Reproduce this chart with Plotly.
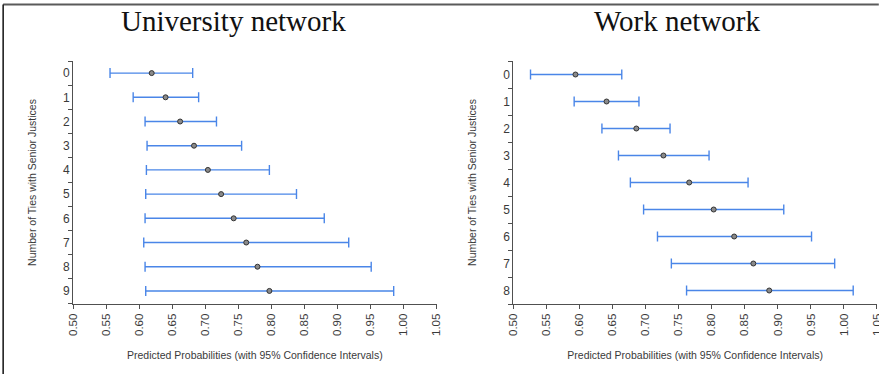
import plotly.graph_objects as go

# ---------------- data ----------------
uni_ties = [0, 1, 2, 3, 4, 5, 6, 7, 8, 9]
uni_pred = [0.619, 0.640, 0.662, 0.683, 0.704, 0.724, 0.743, 0.762, 0.779, 0.797]
uni_low = [0.556, 0.591, 0.609, 0.612, 0.611, 0.610, 0.609, 0.607, 0.609, 0.610]
uni_high = [0.681, 0.690, 0.717, 0.755, 0.797, 0.838, 0.880, 0.917, 0.951, 0.985]

work_ties = [0, 1, 2, 3, 4, 5, 6, 7, 8]
work_pred = [0.594, 0.641, 0.686, 0.727, 0.766, 0.803, 0.834, 0.863, 0.887]
work_low = [0.526, 0.592, 0.634, 0.659, 0.677, 0.697, 0.718, 0.739, 0.762]
work_high = [0.664, 0.690, 0.737, 0.796, 0.855, 0.909, 0.951, 0.986, 1.014]

x_ticks = [0.50, 0.55, 0.60, 0.65, 0.70, 0.75, 0.80, 0.85, 0.90, 0.95, 1.00, 1.05]
titles = ["University network", "Work network"]
x_title = "Predicted Probabilities (with 95% Confidence Intervals)"
y_title = "Number of Ties with Senior Justices"

# ---------------- styling ----------------
W, H = 879, 374
ML, MR, MT, MB = 73.3, 2.3, 61, 70
PW = W - ML - MR
PH = H - MT - MB
BAR = "#4a86e8"
AX = "#505050"
TXT = "#3a3a3a"
SANS = "Liberation Sans, Arial, sans-serif"
SERIF = "Liberation Serif, Times New Roman, serif"


def px_x(px):
    return (px - ML) / PW


def px_y(py):
    return (H - MB - py) / PH


fig = go.Figure()


def add_panel(ties, pred, low, high, xa, ya):
    fig.add_trace(go.Scatter(
        x=pred, y=ties, xaxis=xa, yaxis=ya, mode="markers",
        marker=dict(symbol="circle", size=5, color="#8a8a8a",
                    line=dict(color="#333333", width=1)),
        error_x=dict(type="data", symmetric=False,
                     array=[h - p for h, p in zip(high, pred)],
                     arrayminus=[p - l for p, l in zip(pred, low)],
                     color=BAR, thickness=1.4, width=5),
        showlegend=False, hoverinfo="skip",
    ))


add_panel(uni_ties, uni_pred, uni_low, uni_high, "x", "y")
add_panel(work_ties, work_pred, work_low, work_high, "x2", "y2")


def xaxis_cfg(domain, anchor):
    return dict(
        domain=domain, anchor=anchor, range=[0.50, 1.05], automargin=False,
        tickvals=x_ticks, ticktext=[f"{v:.2f}" for v in x_ticks],
        tickangle=-90, ticks="outside", ticklen=4, tickcolor=AX,
        ticklabeloverflow="allow",
        showline=True, linecolor=AX, linewidth=1, showgrid=False,
        zeroline=False, tickfont=dict(family=SANS, size=11.5, color=TXT),
        title=dict(text=x_title, standoff=16,
                   font=dict(family=SANS, size=10.5, color=TXT)),
    )


def yaxis_cfg(anchor, n):
    return dict(
        domain=[0, 1], anchor=anchor, automargin=False,
        range=[n - 0.5 + (0.04 if n == 10 else 0), -0.5],
        tickvals=list(range(n)), ticktext=[str(i) for i in range(n)],
        ticks="", showline=True, linecolor=AX, linewidth=1,
        showgrid=False, zeroline=False,
        minor=dict(tickvals=[i - 0.5 for i in range(n + 1)], ticks="outside",
                   ticklen=4, tickcolor=AX, showgrid=False),
        tickfont=dict(family=SANS, size=12, color=TXT),
        title=dict(text=y_title, standoff=24,
                   font=dict(family=SANS, size=10.5, color=TXT)),
    )


fig.update_layout(
    width=W, height=H,
    margin=dict(l=ML, r=MR, t=MT, b=MB, autoexpand=False),
    paper_bgcolor="white", plot_bgcolor="white",
    xaxis=xaxis_cfg([px_x(73.3), px_x(436.7)], "y"),
    yaxis=yaxis_cfg("x", len(uni_ties)),
    xaxis2=xaxis_cfg([px_x(513.3), px_x(876.7)], "y2"),
    yaxis2=yaxis_cfg("x2", len(work_ties)),
)

for txt, cx in zip(titles, [234, 677]):
    fig.add_annotation(text=txt, xref="paper", yref="paper",
                       x=px_x(cx), y=px_y(21), xanchor="center", yanchor="middle",
                       showarrow=False,
                       font=dict(family=SERIF, size=29, color="#111111"))

# frame lines (top and left)
fig.add_shape(type="line", xref="paper", yref="paper",
              x0=px_x(3.5), x1=px_x(878.5), y0=px_y(4.5), y1=px_y(4.5),
              line=dict(color="#5a5a5a", width=2))
fig.add_shape(type="line", xref="paper", yref="paper",
              x0=px_x(3.5), x1=px_x(3.5), y0=px_y(H), y1=px_y(4.5),
              line=dict(color="#111111", width=1.5))

fig.write_html("out.html", config={"displayModeBar": False},
               post_script="document.body.style.margin='0';document.body.style.overflow='hidden';")
